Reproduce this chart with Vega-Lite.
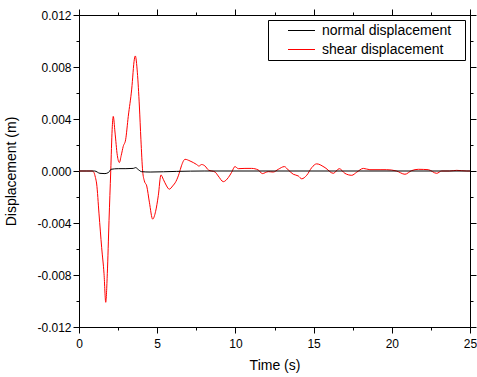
{
  "$schema": "https://vega.github.io/schema/vega-lite/v6.json",
  "width": 391,
  "height": 312,
  "autosize": {"type": "none"},
  "padding": {"left": 79, "top": 15, "right": 7, "bottom": 50},
  "config": {
    "font": "Liberation Sans",
    "view": {"stroke": "#000000", "strokeWidth": 1},
    "axis": {"domainColor": "#000000", "tickColor": "#000000", "labelColor": "#000000", "titleColor": "#000000", "grid": false, "labelFontSize": 12, "titleFontSize": 14, "titleFontWeight": "normal"}
  },
  "data": {
    "values": [
      {"t": 0, "v": 0, "s": "shear displacement"},
      {"t": 0.5, "v": 0, "s": "shear displacement"},
      {"t": 0.85, "v": 0, "s": "shear displacement"},
      {"t": 0.95, "v": -0.0001, "s": "shear displacement"},
      {"t": 1.05, "v": -0.0005, "s": "shear displacement"},
      {"t": 1.13, "v": -0.001, "s": "shear displacement"},
      {"t": 1.28, "v": -0.0033, "s": "shear displacement"},
      {"t": 1.45, "v": -0.0059, "s": "shear displacement"},
      {"t": 1.6, "v": -0.0079, "s": "shear displacement"},
      {"t": 1.71, "v": -0.0101, "s": "shear displacement"},
      {"t": 1.81, "v": -0.0079, "s": "shear displacement"},
      {"t": 1.92, "v": -0.0038, "s": "shear displacement"},
      {"t": 2.03, "v": 0, "s": "shear displacement"},
      {"t": 2.12, "v": 0.0032, "s": "shear displacement"},
      {"t": 2.19, "v": 0.0042, "s": "shear displacement"},
      {"t": 2.3, "v": 0.003, "s": "shear displacement"},
      {"t": 2.45, "v": 0.0012, "s": "shear displacement"},
      {"t": 2.58, "v": 0.00065, "s": "shear displacement"},
      {"t": 2.7, "v": 0.0012, "s": "shear displacement"},
      {"t": 2.83, "v": 0.0019, "s": "shear displacement"},
      {"t": 2.98, "v": 0.0024, "s": "shear displacement"},
      {"t": 3.15, "v": 0.0042, "s": "shear displacement"},
      {"t": 3.37, "v": 0.0063, "s": "shear displacement"},
      {"t": 3.54, "v": 0.0086, "s": "shear displacement"},
      {"t": 3.6, "v": 0.00885, "s": "shear displacement"},
      {"t": 3.73, "v": 0.0076, "s": "shear displacement"},
      {"t": 3.86, "v": 0.005, "s": "shear displacement"},
      {"t": 3.96, "v": 0.0024, "s": "shear displacement"},
      {"t": 4.07, "v": 0, "s": "shear displacement"},
      {"t": 4.18, "v": -0.00077, "s": "shear displacement"},
      {"t": 4.33, "v": -0.00115, "s": "shear displacement"},
      {"t": 4.5, "v": -0.0024, "s": "shear displacement"},
      {"t": 4.71, "v": -0.0037, "s": "shear displacement"},
      {"t": 4.9, "v": -0.0031, "s": "shear displacement"},
      {"t": 5.07, "v": -0.0019, "s": "shear displacement"},
      {"t": 5.24, "v": -0.0003, "s": "shear displacement"},
      {"t": 5.39, "v": -0.00064, "s": "shear displacement"},
      {"t": 5.6, "v": -0.00115, "s": "shear displacement"},
      {"t": 5.77, "v": -0.0014, "s": "shear displacement"},
      {"t": 5.99, "v": -0.00115, "s": "shear displacement"},
      {"t": 6.2, "v": -0.0008, "s": "shear displacement"},
      {"t": 6.4, "v": -0.0002, "s": "shear displacement"},
      {"t": 6.55, "v": 0.0004, "s": "shear displacement"},
      {"t": 6.78, "v": 0.0009, "s": "shear displacement"},
      {"t": 7.1, "v": 0.00077, "s": "shear displacement"},
      {"t": 7.52, "v": 0.0005, "s": "shear displacement"},
      {"t": 7.67, "v": 0.00038, "s": "shear displacement"},
      {"t": 7.84, "v": 0.0005, "s": "shear displacement"},
      {"t": 8.06, "v": 0.00038, "s": "shear displacement"},
      {"t": 8.27, "v": 0.00008, "s": "shear displacement"},
      {"t": 8.7, "v": -0.00008, "s": "shear displacement"},
      {"t": 8.9, "v": -0.00038, "s": "shear displacement"},
      {"t": 9.23, "v": -0.00082, "s": "shear displacement"},
      {"t": 9.55, "v": -0.0005, "s": "shear displacement"},
      {"t": 9.76, "v": -0.0001, "s": "shear displacement"},
      {"t": 9.97, "v": 0.00034, "s": "shear displacement"},
      {"t": 10.19, "v": 0.00018, "s": "shear displacement"},
      {"t": 10.61, "v": 0.0002, "s": "shear displacement"},
      {"t": 11.04, "v": 0.0002, "s": "shear displacement"},
      {"t": 11.46, "v": 0.00008, "s": "shear displacement"},
      {"t": 11.72, "v": -0.0002, "s": "shear displacement"},
      {"t": 12.1, "v": -0.00005, "s": "shear displacement"},
      {"t": 12.42, "v": -0.00008, "s": "shear displacement"},
      {"t": 12.74, "v": 0.00013, "s": "shear displacement"},
      {"t": 13.13, "v": 0.00034, "s": "shear displacement"},
      {"t": 13.38, "v": 0.00008, "s": "shear displacement"},
      {"t": 13.7, "v": -0.00025, "s": "shear displacement"},
      {"t": 14.02, "v": -0.00038, "s": "shear displacement"},
      {"t": 14.24, "v": -0.0006, "s": "shear displacement"},
      {"t": 14.56, "v": -0.00033, "s": "shear displacement"},
      {"t": 14.88, "v": 0.00026, "s": "shear displacement"},
      {"t": 15.2, "v": 0.00055, "s": "shear displacement"},
      {"t": 15.73, "v": 0.00026, "s": "shear displacement"},
      {"t": 16.26, "v": -0.00018, "s": "shear displacement"},
      {"t": 16.64, "v": 0.00018, "s": "shear displacement"},
      {"t": 17.0, "v": -0.00018, "s": "shear displacement"},
      {"t": 17.44, "v": -0.00033, "s": "shear displacement"},
      {"t": 17.75, "v": -0.0001, "s": "shear displacement"},
      {"t": 18.18, "v": 0.0002, "s": "shear displacement"},
      {"t": 18.6, "v": 0.0001, "s": "shear displacement"},
      {"t": 19.25, "v": 0.0001, "s": "shear displacement"},
      {"t": 19.67, "v": 0.0001, "s": "shear displacement"},
      {"t": 20.3, "v": 0, "s": "shear displacement"},
      {"t": 20.84, "v": -0.00025, "s": "shear displacement"},
      {"t": 21.27, "v": 0.00003, "s": "shear displacement"},
      {"t": 21.7, "v": 0.00013, "s": "shear displacement"},
      {"t": 22.33, "v": 0.0001, "s": "shear displacement"},
      {"t": 22.87, "v": -0.00018, "s": "shear displacement"},
      {"t": 23.19, "v": 0, "s": "shear displacement"},
      {"t": 23.7, "v": 0, "s": "shear displacement"},
      {"t": 24.15, "v": 0.00005, "s": "shear displacement"},
      {"t": 24.8, "v": 0, "s": "shear displacement"},
      {"t": 25, "v": 0, "s": "shear displacement"},
      {"t": 0, "v": 0, "s": "normal displacement"},
      {"t": 1.0, "v": 0, "s": "normal displacement"},
      {"t": 1.34, "v": -0.00018, "s": "normal displacement"},
      {"t": 1.66, "v": -0.0002, "s": "normal displacement"},
      {"t": 1.9, "v": -0.0001, "s": "normal displacement"},
      {"t": 2.05, "v": 0.00013, "s": "normal displacement"},
      {"t": 2.51, "v": 0.00018, "s": "normal displacement"},
      {"t": 3.0, "v": 0.00018, "s": "normal displacement"},
      {"t": 3.47, "v": 0.0002, "s": "normal displacement"},
      {"t": 3.62, "v": 0.00026, "s": "normal displacement"},
      {"t": 3.8, "v": 0.0001, "s": "normal displacement"},
      {"t": 4.0, "v": -0.00005, "s": "normal displacement"},
      {"t": 4.55, "v": -0.00008, "s": "normal displacement"},
      {"t": 6.25, "v": -0.00003, "s": "normal displacement"},
      {"t": 8.0, "v": 0, "s": "normal displacement"},
      {"t": 25, "v": 0, "s": "normal displacement"}
    ]
  },
  "layer": [
    {
      "mark": {"type": "line", "strokeWidth": 1, "interpolate": "monotone"},
      "encoding": {
        "x": {
          "field": "t", "type": "quantitative",
          "scale": {"domain": [0, 25], "nice": false, "zero": false},
          "axis": {
            "orient": "bottom", "title": "Time (s)",
            "values": [0, 2.5, 5, 7.5, 10, 12.5, 15, 17.5, 20, 22.5, 25],
            "labelExpr": "datum.value % 5 != 0 ? '' : format(datum.value, 'd')",
            "tickSize": {"condition": {"test": "datum.value % 5 != 0", "value": 3}, "value": 6},
            "labelPadding": 5, "titlePadding": 9, "labelFlush": false, "labelOverlap": false
          }
        },
        "y": {
          "field": "v", "type": "quantitative",
          "scale": {"domain": [-0.012, 0.012], "nice": false, "zero": false},
          "axis": {
            "orient": "left", "title": "Displacement (m)",
            "values": [-0.012, -0.01, -0.008, -0.006, -0.004, -0.002, 0, 0.002, 0.004, 0.006, 0.008, 0.01, 0.012],
            "labelExpr": "round(datum.value * 500) % 2 != 0 ? '' : (datum.value < 0 ? '-' : '') + format(abs(datum.value), '.3f')",
            "tickSize": {"condition": {"test": "round(datum.value * 500) % 2 != 0", "value": 3}, "value": 6},
            "labelPadding": 2, "labelFlush": false, "labelOverlap": false,
            "titleX": -64, "titleY": 156, "titleBaseline": "alphabetic", "titleAlign": "center", "titleAngle": -90
          }
        },
        "color": {
          "field": "s", "type": "nominal",
          "scale": {"domain": ["normal displacement", "shear displacement"], "range": ["#000000", "#ff0000"]},
          "legend": {
            "title": null, "orient": "none", "legendX": 189, "legendY": 5,
            "strokeColor": "#000000", "fillColor": "#ffffff", "padding": 3,
            "symbolType": "M-2,0H2", "symbolSize": 182, "symbolStrokeWidth": 1, "symbolOffset": 23,
            "labelFontSize": 14, "labelColor": "#000000", "labelOffset": 13, "rowPadding": 4,
            "labelExpr": "datum.label + '\u2800'"
          }
        }
      }
    },
    {
      "mark": {"type": "line", "strokeOpacity": 0},
      "encoding": {
        "x": {
          "field": "t", "type": "quantitative",
          "axis": {
            "orient": "top", "title": null, "labels": false,
            "values": [0, 2.5, 5, 7.5, 10, 12.5, 15, 17.5, 20, 22.5, 25],
            "tickSize": {"condition": {"test": "datum.value % 5 != 0", "value": 3}, "value": 6}
          }
        },
        "y": {
          "field": "v", "type": "quantitative",
          "axis": {
            "orient": "right", "title": null, "labels": false,
            "values": [-0.012, -0.01, -0.008, -0.006, -0.004, -0.002, 0, 0.002, 0.004, 0.006, 0.008, 0.01, 0.012],
            "tickSize": {"condition": {"test": "round(datum.value * 500) % 2 != 0", "value": 3}, "value": 6}
          }
        },
        "detail": {"field": "s", "type": "nominal"}
      }
    }
  ],
  "resolve": {"axis": {"x": "independent", "y": "independent"}}
}
